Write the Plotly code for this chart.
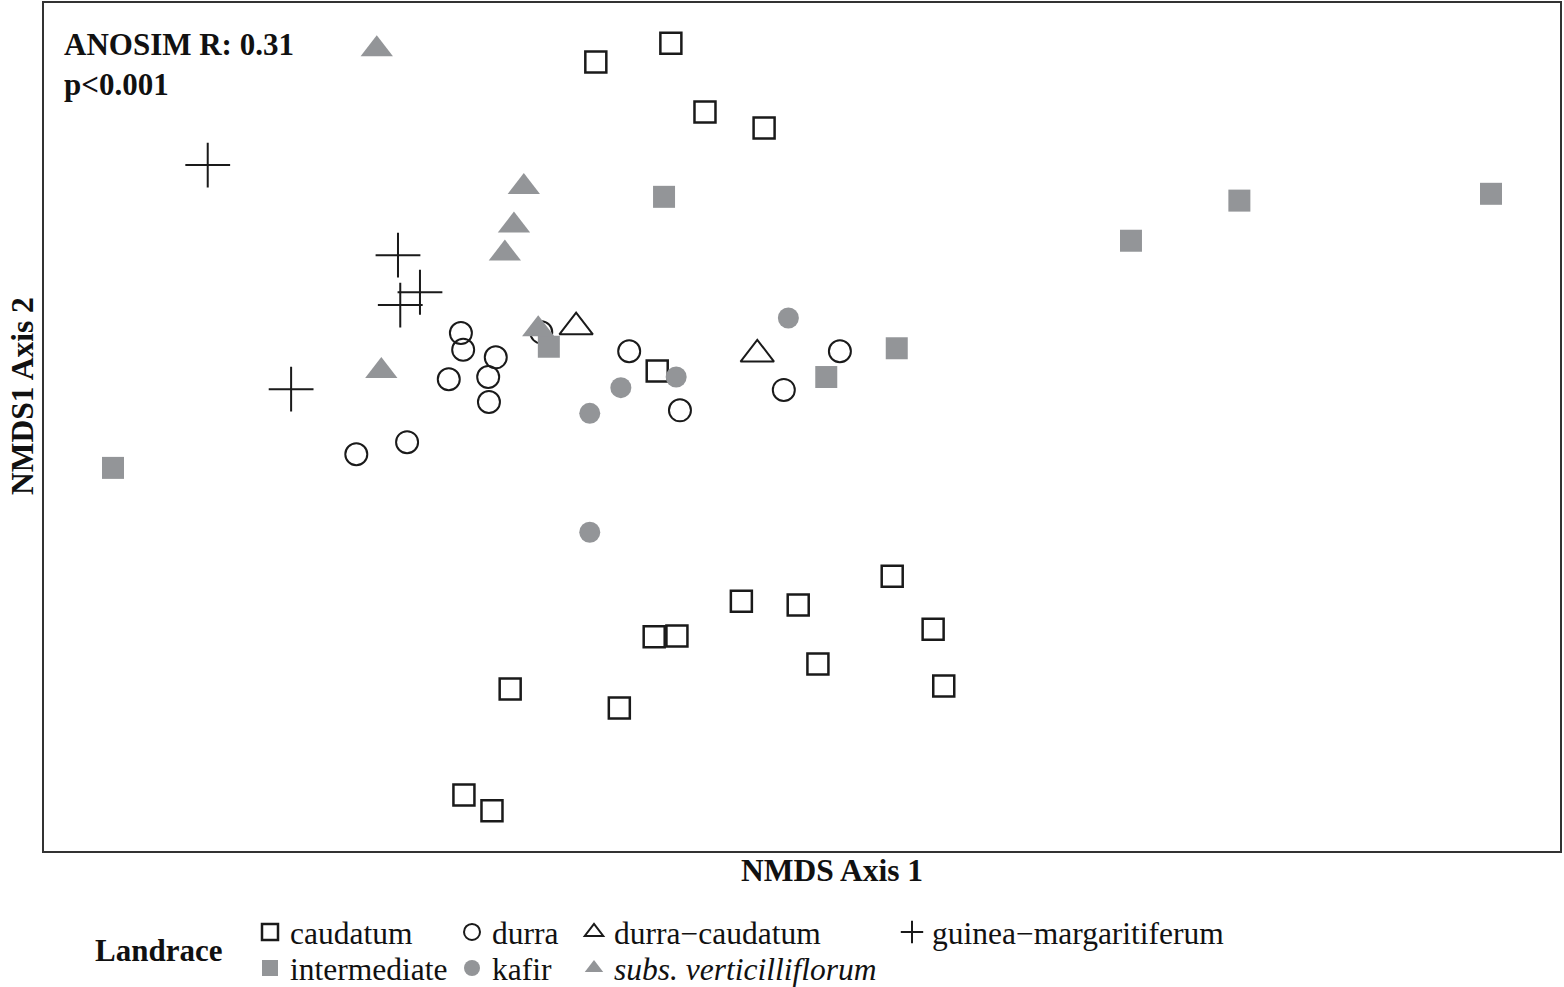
import plotly.graph_objects as go

# NMDS scores
caudatum_x = [-0.173, -0.272, -0.128, -0.050, -0.191, 0.119, -0.080, -0.005, 0.173, -0.195, -0.165, 0.021, 0.187, -0.385, -0.241, -0.446, -0.409]
caudatum_y = [0.507, 0.482, 0.416, 0.395, 0.074, -0.197, -0.230, -0.235, -0.267, -0.277, -0.276, -0.313, -0.342, -0.346, -0.371, -0.486, -0.507]

durra_x = [-0.450, -0.447, -0.404, -0.466, -0.414, -0.413, -0.344, -0.228, -0.161, -0.588, -0.521, -0.024, 0.050]
durra_y = [0.124, 0.102, 0.092, 0.063, 0.066, 0.033, 0.125, 0.100, 0.022, -0.036, -0.020, 0.049, 0.100]

durra_caudatum_x = [-0.298, -0.059]
durra_caudatum_y = [0.132, 0.096]

guinea_x = [-0.784, -0.533, -0.504, -0.530, -0.674]
guinea_y = [0.346, 0.227, 0.178, 0.161, 0.050]

intermediate_x = [-0.182, 0.577, 0.909, 0.434, -0.334, 0.125, 0.032, -0.909]
intermediate_y = [0.304, 0.299, 0.308, 0.246, 0.106, 0.104, 0.066, -0.054]

kafir_x = [-0.018, -0.239, -0.166, -0.280, -0.280]
kafir_y = [0.144, 0.052, 0.066, 0.018, -0.139]

vert_x = [-0.561, -0.367, -0.380, -0.392, -0.348, -0.555]
vert_y = [0.499, 0.317, 0.266, 0.229, 0.129, 0.074]

GRAY = "#939598"
BLACK = "#1a1a1a"
FONT = "Liberation Serif"

fig = go.Figure()

def add(name, xs, ys, symbol, size, color, line_w, legend, fill=True):
    if fill:
        marker = dict(symbol=symbol, size=size, color=color, line=dict(width=0))
    else:
        marker = dict(symbol=symbol, size=size, color=color, line=dict(width=line_w, color=color))
    fig.add_trace(go.Scatter(x=xs, y=ys, mode="markers", name=name, marker=marker, legend=legend))

add("caudatum", caudatum_x, caudatum_y, "square-open", 21, BLACK, 2.5, "legend", fill=False)
add("durra", durra_x, durra_y, "circle-open", 22, BLACK, 2, "legend2", fill=False)
add("durra\u2212caudatum", durra_caudatum_x, durra_caudatum_y, "triangle-up-open", 29, BLACK, 2, "legend3", fill=False)
add("guinea\u2212margaritiferum", guinea_x, guinea_y, "cross-thin-open", 32, BLACK, 2, "legend4", fill=False)
add("intermediate", intermediate_x, intermediate_y, "square", 22, GRAY, 0, "legend5")
add("kafir", kafir_x, kafir_y, "circle", 21, GRAY, 0, "legend6")
add("<i>subs. verticilliflorum</i>", vert_x, vert_y, "triangle-up", 28, GRAY, 0, "legend7")

leg_common = dict(xref="container", yref="container", yanchor="top", xanchor="left",
                  orientation="v", font=dict(family=FONT, size=31.5, color="#111"),
                  bgcolor="rgba(0,0,0,0)", tracegroupgap=0, itemsizing="trace")
row1 = 1 - 905 / 987
row2 = 1 - 941 / 987

# pixel -> paper helpers for annotations (plot area spans x 44..1560, y 3..851)
def px(x):
    return (x - 44) / 1516

def py(y):
    return (851 - y) / 848

fig.update_layout(
    width=1564, height=987,
    paper_bgcolor="white", plot_bgcolor="white",
    margin=dict(l=44, r=4, t=3, b=136, autoexpand=False),
    xaxis=dict(range=[-1, 1], showticklabels=False, ticks="", showgrid=False, zeroline=False,
               showline=True, mirror=True, linecolor="#333", linewidth=1.5),
    yaxis=dict(range=[-0.56, 0.56], showticklabels=False, ticks="", showgrid=False, zeroline=False,
               showline=True, mirror=True, linecolor="#333", linewidth=1.5),
    legend=dict(x=250 / 1564, y=row1, **leg_common),
    legend2=dict(x=452 / 1564, y=row1, **leg_common),
    legend3=dict(x=574 / 1564, y=row1, **leg_common),
    legend4=dict(x=892 / 1564, y=row1, **leg_common),
    legend5=dict(x=250 / 1564, y=row2, **leg_common),
    legend6=dict(x=452 / 1564, y=row2, **leg_common),
    legend7=dict(x=574 / 1564, y=row2, **leg_common),
    showlegend=True,
)

fig.add_annotation(text="<b>ANOSIM R: 0.31<br>p&lt;0.001</b>", xref="paper", yref="paper",
                   x=px(62), y=py(25), xanchor="left", yanchor="top", showarrow=False, align="left",
                   font=dict(family=FONT, size=31, color="#111"))
fig.add_annotation(text="<b>NMDS Axis 1</b>", xref="paper", yref="paper",
                   x=px(832), y=py(870), xanchor="center", yanchor="middle", showarrow=False,
                   font=dict(family=FONT, size=31.5, color="#111"))
fig.add_annotation(text="<b>NMDS1 Axis 2</b>", xref="paper", yref="paper",
                   x=px(22), y=py(396), xanchor="center", yanchor="middle", showarrow=False,
                   textangle=-90, font=dict(family=FONT, size=31.5, color="#111"))
fig.add_annotation(text="<b>Landrace</b>", xref="paper", yref="paper",
                   x=px(158), y=py(950), xanchor="center", yanchor="middle", showarrow=False,
                   font=dict(family=FONT, size=31, color="#111"))

fig.write_html("out.html", config={"displayModeBar": False},
               post_script="document.body.style.margin='0px';")
